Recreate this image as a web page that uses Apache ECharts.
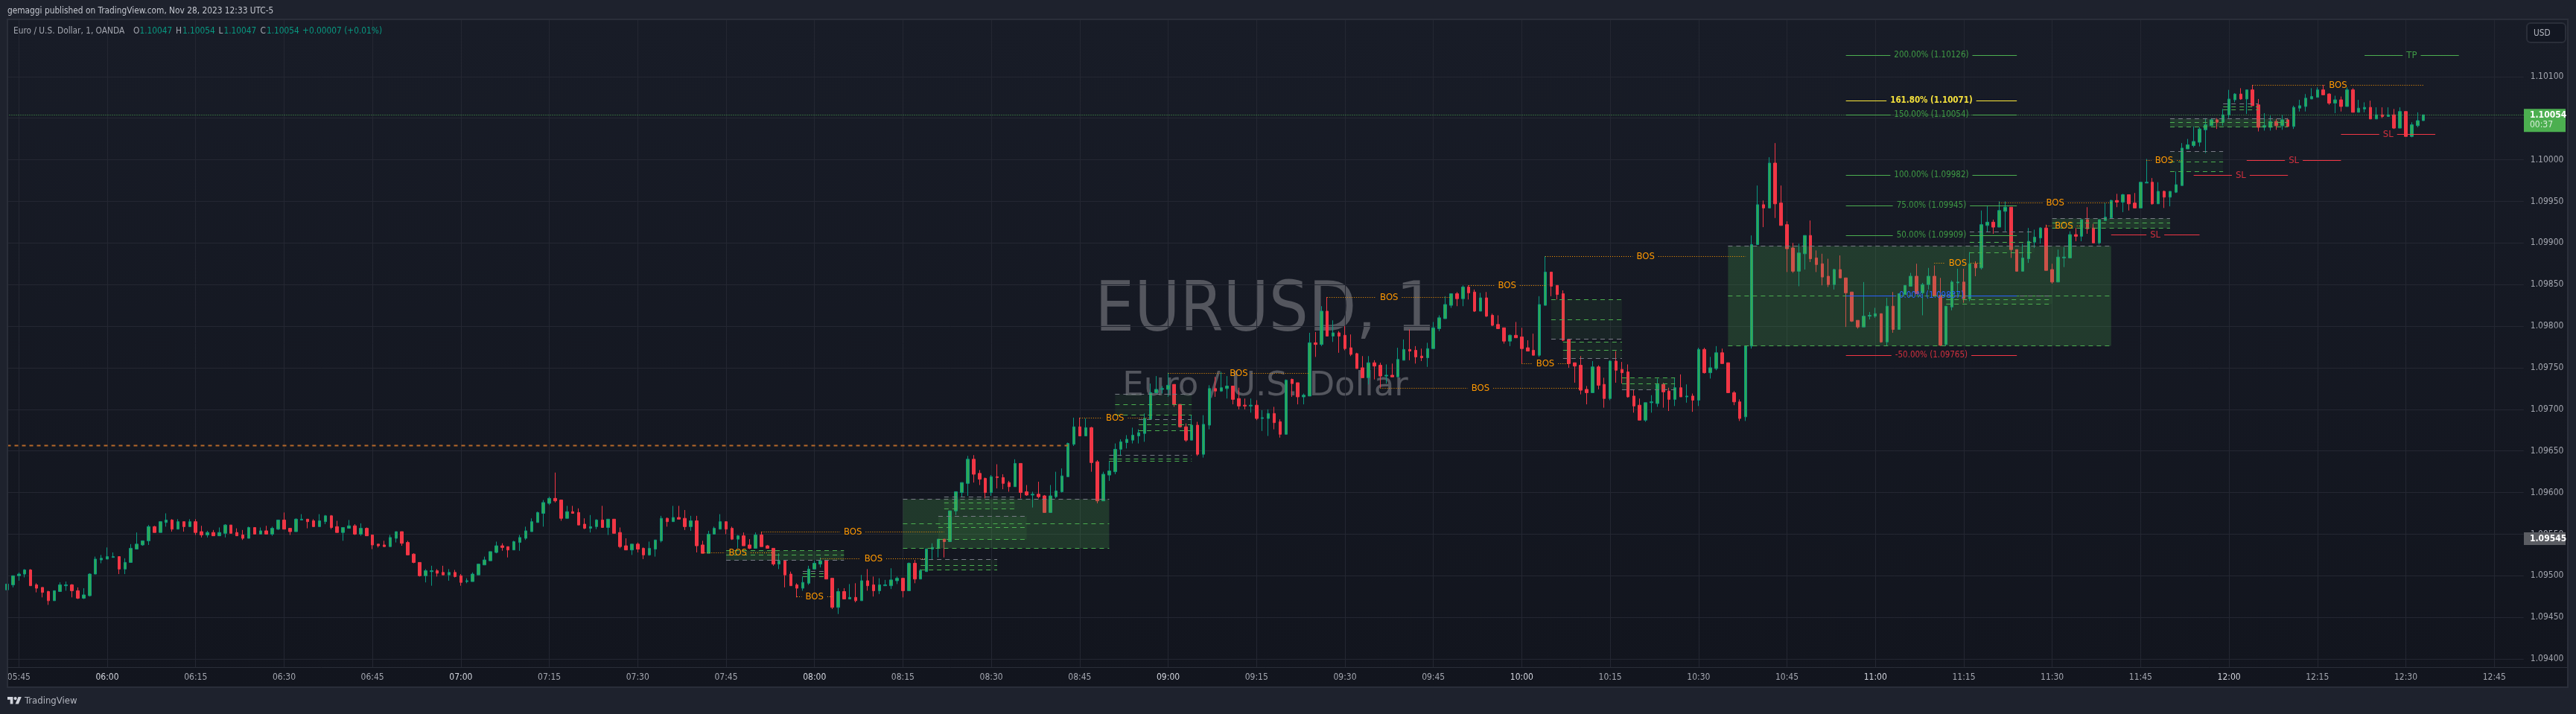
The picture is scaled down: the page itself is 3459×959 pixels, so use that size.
<!DOCTYPE html>
<html><head><meta charset="utf-8">
<style>html,body{margin:0;padding:0;background:#1e222d}#c{width:3459px;height:959px}</style>
<script src="https://cdn.jsdelivr.net/npm/echarts@6/dist/echarts.min.js"></script>
</head><body><div id="c"></div>
<script>
const opens=[
1.09483,1.09489,1.09500,1.09502,1.09507,1.09489,1.09486,1.09481,1.09470,1.09481,
1.09488,1.09489,1.09482,1.09473,1.09476,1.09502,1.09519,1.09520,1.09522,1.09523,
1.09508,1.09516,1.09532,1.09537,1.09542,1.09559,1.09552,1.09564,1.09567,1.09556,
1.09565,1.09559,1.09565,1.09553,1.09549,1.09552,1.09548,1.09551,1.09561,1.09552,
1.09549,1.09545,1.09558,1.09550,1.09554,1.09550,1.09556,1.09567,1.09557,1.09553,
1.09567,1.09568,1.09566,1.09559,1.09565,1.09572,1.09559,1.09552,1.09557,1.09560,
1.09550,1.09557,1.09549,1.09538,1.09537,1.09535,1.09545,1.09553,1.09540,1.09526,
1.09516,1.09500,1.09505,1.09506,1.09504,1.09501,1.09504,1.09500,1.09493,1.09493,
1.09501,1.09513,1.09518,1.09528,1.09536,1.09535,1.09531,1.09540,1.09545,1.09553,
1.09564,1.09575,1.09587,1.09593,1.09591,1.09569,1.09577,1.09576,1.09562,1.09557,
1.09559,1.09567,1.09558,1.09568,1.09552,1.09536,1.09531,1.09538,1.09533,1.09525,
1.09532,1.09542,1.09569,1.09565,1.09570,1.09569,1.09559,1.09566,1.09537,1.09527,
1.09550,1.09556,1.09565,1.09557,1.09544,1.09548,1.09537,1.09533,1.09549,1.09536,
1.09533,1.09514,1.09518,1.09502,1.09489,1.09485,1.09491,1.09508,1.09514,1.09518,
1.09497,1.09462,1.09481,1.09472,1.09474,1.09470,1.09494,1.09489,1.09482,1.09488,
1.09488,1.09494,1.09497,1.09482,1.09515,1.09496,1.09505,1.09532,1.09533,1.09544,
1.09541,1.09578,1.09600,1.09611,1.09640,1.09623,1.09617,1.09600,1.09619,1.09618,
1.09612,1.09607,1.09635,1.09601,1.09597,1.09598,1.09596,1.09576,1.09595,1.09601,
1.09619,1.09658,1.09679,1.09668,1.09678,1.09637,1.09590,1.09621,1.09625,1.09652,
1.09660,1.09663,1.09668,1.09671,1.09688,1.09720,1.09724,1.09724,1.09730,1.09706,
1.09679,1.09663,1.09681,1.09646,1.09681,1.09725,1.09722,1.09725,1.09728,1.09713,
1.09705,1.09704,1.09705,1.09689,1.09689,1.09695,1.09685,1.09670,1.09736,1.09732,
1.09715,1.09716,1.09780,1.09778,1.09818,1.09788,1.09792,1.09789,1.09774,1.09767,
1.09750,1.09738,1.09756,1.09753,1.09740,1.09741,1.09739,1.09759,1.09772,1.09771,
1.09764,1.09762,1.09773,1.09797,1.09809,1.09825,1.09839,1.09833,1.09847,1.09841,
1.09818,1.09834,1.09813,1.09802,1.09798,1.09782,1.09789,1.09787,1.09774,1.09771,
1.09765,1.09825,1.09865,1.09849,1.09839,1.09784,1.09756,1.09753,1.09724,1.09720,
1.09751,1.09730,1.09713,1.09758,1.09748,1.09745,1.09716,1.09705,1.09687,1.09708,
1.09707,1.09730,1.09722,1.09712,1.09726,1.09715,1.09716,1.09711,1.09772,1.09744,
1.09749,1.09768,1.09756,1.09720,1.09709,1.09691,1.09776,1.09898,1.09946,1.09942,
1.09996,1.09948,1.09922,1.09894,1.09866,1.09887,1.09909,1.09882,1.09875,1.09860,
1.09850,1.09868,1.09858,1.09841,1.09807,1.09799,1.09812,1.09812,1.09815,1.09781,
1.09824,1.09796,1.09838,1.09848,1.09860,1.09840,1.09850,1.09860,1.09837,1.09778,
1.09823,1.09852,1.09853,1.09833,1.09875,1.09870,1.09921,1.09925,1.09919,1.09938,
1.09943,1.09892,1.09866,1.09881,1.09901,1.09906,1.09918,1.09868,1.09853,1.09882,
1.09882,1.09910,1.09908,1.09928,1.09918,1.09900,1.09927,1.09930,1.09951,1.09949,
1.09958,1.09948,1.09942,1.09972,1.09973,1.09947,1.09962,1.09955,1.09961,1.09969,
1.10013,1.10017,1.10021,1.10036,1.10041,1.10048,1.10045,1.10054,1.10072,1.10079,
1.10073,1.10084,1.10066,1.10039,1.10039,1.10046,1.10041,1.10048,1.10040,1.10062,
1.10064,1.10073,1.10075,1.10084,1.10079,1.10068,1.10072,1.10064,1.10084,1.10057,
1.10061,1.10063,1.10049,1.10054,1.10052,1.10054,1.10038,1.10058,1.10028,1.10041,1.10047];
const highs=[
1.09490,1.09500,1.09504,1.09508,1.09508,1.09491,1.09486,1.09482,1.09482,1.09492,
1.09493,1.09490,1.09486,1.09485,1.09503,1.09523,1.09525,1.09534,1.09528,1.09523,
1.09521,1.09538,1.09552,1.09542,1.09561,1.09560,1.09565,1.09575,1.09568,1.09568,
1.09565,1.09568,1.09568,1.09560,1.09554,1.09555,1.09558,1.09562,1.09561,1.09557,
1.09555,1.09559,1.09558,1.09558,1.09560,1.09559,1.09567,1.09576,1.09557,1.09569,
1.09574,1.09568,1.09568,1.09574,1.09573,1.09573,1.09566,1.09558,1.09567,1.09562,
1.09563,1.09558,1.09549,1.09538,1.09542,1.09549,1.09553,1.09553,1.09542,1.09527,
1.09516,1.09508,1.09512,1.09508,1.09512,1.09508,1.09507,1.09502,1.09497,1.09504,
1.09514,1.09523,1.09529,1.09541,1.09539,1.09535,1.09542,1.09549,1.09559,1.09569,
1.09577,1.09591,1.09595,1.09624,1.09591,1.09584,1.09584,1.09581,1.09569,1.09573,
1.09568,1.09584,1.09568,1.09568,1.09558,1.09545,1.09538,1.09540,1.09534,1.09541,
1.09543,1.09572,1.09570,1.09584,1.09584,1.09579,1.09572,1.09572,1.09542,1.09554,
1.09559,1.09574,1.09565,1.09559,1.09549,1.09552,1.09544,1.09552,1.09553,1.09537,
1.09533,1.09527,1.09518,1.09505,1.09491,1.09499,1.09512,1.09518,1.09522,1.09519,
1.09497,1.09485,1.09485,1.09490,1.09491,1.09501,1.09508,1.09499,1.09497,1.09495,
1.09509,1.09499,1.09497,1.09516,1.09519,1.09508,1.09533,1.09539,1.09544,1.09544,
1.09578,1.09601,1.09612,1.09644,1.09645,1.09627,1.09618,1.09621,1.09634,1.09622,
1.09614,1.09640,1.09635,1.09609,1.09601,1.09613,1.09597,1.09609,1.09625,1.09629,
1.09660,1.09690,1.09690,1.09689,1.09679,1.09639,1.09625,1.09638,1.09659,1.09664,
1.09669,1.09678,1.09676,1.09695,1.09731,1.09740,1.09728,1.09744,1.09730,1.09706,
1.09683,1.09693,1.09685,1.09693,1.09729,1.09739,1.09745,1.09740,1.09728,1.09726,
1.09713,1.09713,1.09711,1.09699,1.09700,1.09703,1.09688,1.09736,1.09737,1.09732,
1.09719,1.09792,1.09793,1.09824,1.09835,1.09807,1.09794,1.09800,1.09790,1.09768,
1.09764,1.09764,1.09759,1.09756,1.09754,1.09755,1.09774,1.09784,1.09796,1.09776,
1.09773,1.09780,1.09805,1.09813,1.09836,1.09839,1.09841,1.09849,1.09849,1.09844,
1.09840,1.09841,1.09815,1.09813,1.09798,1.09790,1.09805,1.09798,1.09783,1.09791,
1.09836,1.09884,1.09865,1.09849,1.09843,1.09784,1.09756,1.09764,1.09728,1.09758,
1.09753,1.09738,1.09759,1.09770,1.09757,1.09754,1.09724,1.09713,1.09708,1.09717,
1.09737,1.09732,1.09726,1.09738,1.09742,1.09730,1.09719,1.09774,1.09774,1.09763,
1.09776,1.09773,1.09756,1.09722,1.09712,1.09776,1.09909,1.09969,1.09951,1.10003,
1.10020,1.09969,1.09926,1.09900,1.09899,1.09909,1.09927,1.09891,1.09887,1.09881,
1.09869,1.09885,1.09858,1.09841,1.09807,1.09853,1.09817,1.09822,1.09815,1.09834,
1.09841,1.09839,1.09849,1.09864,1.09875,1.09852,1.09870,1.09873,1.09858,1.09824,
1.09855,1.09869,1.09869,1.09889,1.09878,1.09939,1.09944,1.09928,1.09950,1.09950,
1.09943,1.09892,1.09899,1.09918,1.09916,1.09919,1.09922,1.09875,1.09892,1.09895,
1.09914,1.09918,1.09928,1.09943,1.09923,1.09928,1.09948,1.09952,1.09959,1.09959,
1.09958,1.09960,1.09973,1.10001,1.09978,1.09973,1.09963,1.09962,1.09986,1.10020,
1.10025,1.10040,1.10039,1.10050,1.10050,1.10050,1.10061,1.10084,1.10080,1.10086,
1.10084,1.10090,1.10073,1.10056,1.10053,1.10049,1.10054,1.10050,1.10065,1.10072,
1.10079,1.10086,1.10087,1.10090,1.10080,1.10077,1.10076,1.10087,1.10086,1.10072,
1.10069,1.10071,1.10063,1.10063,1.10063,1.10061,1.10063,1.10058,1.10045,1.10057,1.10054];
const lows=[
1.09481,1.09486,1.09494,1.09498,1.09488,1.09480,1.09474,1.09465,1.09470,1.09481,
1.09482,1.09474,1.09472,1.09472,1.09475,1.09502,1.09515,1.09520,1.09522,1.09502,
1.09502,1.09516,1.09532,1.09536,1.09537,1.09552,1.09552,1.09559,1.09553,1.09556,
1.09553,1.09559,1.09549,1.09546,1.09546,1.09548,1.09548,1.09546,1.09551,1.09548,
1.09543,1.09545,1.09550,1.09550,1.09550,1.09548,1.09555,1.09556,1.09549,1.09553,
1.09567,1.09557,1.09559,1.09559,1.09562,1.09556,1.09552,1.09542,1.09557,1.09549,
1.09548,1.09548,1.09532,1.09534,1.09535,1.09535,1.09540,1.09536,1.09525,1.09515,
1.09499,1.09492,1.09488,1.09499,1.09501,1.09494,1.09498,1.09488,1.09491,1.09493,
1.09501,1.09513,1.09518,1.09527,1.09530,1.09522,1.09531,1.09530,1.09543,1.09553,
1.09564,1.09559,1.09585,1.09588,1.09566,1.09569,1.09575,1.09561,1.09556,1.09552,
1.09556,1.09558,1.09549,1.09551,1.09533,1.09531,1.09525,1.09528,1.09520,1.09524,
1.09523,1.09540,1.09559,1.09565,1.09568,1.09555,1.09554,1.09528,1.09527,1.09527,
1.09550,1.09556,1.09550,1.09543,1.09533,1.09536,1.09532,1.09533,1.09535,1.09533,
1.09512,1.09508,1.09486,1.09488,1.09474,1.09482,1.09489,1.09508,1.09510,1.09496,
1.09460,1.09454,1.09472,1.09472,1.09468,1.09470,1.09482,1.09475,1.09478,1.09488,
1.09484,1.09490,1.09474,1.09482,1.09491,1.09496,1.09505,1.09519,1.09522,1.09522,
1.09541,1.09573,1.09595,1.09596,1.09612,1.09609,1.09593,1.09596,1.09605,1.09604,
1.09601,1.09607,1.09593,1.09596,1.09582,1.09593,1.09576,1.09576,1.09593,1.09600,
1.09619,1.09656,1.09668,1.09668,1.09625,1.09587,1.09590,1.09614,1.09622,1.09644,
1.09653,1.09659,1.09659,1.09661,1.09688,1.09720,1.09719,1.09715,1.09703,1.09678,
1.09661,1.09663,1.09644,1.09642,1.09676,1.09715,1.09721,1.09713,1.09706,1.09700,
1.09700,1.09696,1.09687,1.09674,1.09668,1.09676,1.09666,1.09670,1.09715,1.09706,
1.09706,1.09716,1.09763,1.09776,1.09788,1.09781,1.09768,1.09771,1.09764,1.09749,
1.09738,1.09730,1.09736,1.09726,1.09731,1.09739,1.09739,1.09759,1.09759,1.09755,
1.09758,1.09751,1.09773,1.09794,1.09809,1.09822,1.09824,1.09824,1.09832,1.09817,
1.09818,1.09811,1.09800,1.09797,1.09779,1.09776,1.09786,1.09755,1.09770,1.09765,
1.09763,1.09825,1.09836,1.09832,1.09782,1.09750,1.09732,1.09718,1.09706,1.09720,
1.09724,1.09702,1.09711,1.09732,1.09731,1.09714,1.09696,1.09687,1.09685,1.09696,
1.09703,1.09702,1.09698,1.09704,1.09715,1.09708,1.09697,1.09704,1.09743,1.09737,
1.09747,1.09755,1.09720,1.09705,1.09686,1.09686,1.09773,1.09898,1.09919,1.09942,
1.09930,1.09921,1.09865,1.09864,1.09848,1.09868,1.09877,1.09865,1.09849,1.09847,
1.09844,1.09858,1.09799,1.09805,1.09797,1.09799,1.09808,1.09810,1.09780,1.09776,
1.09792,1.09796,1.09838,1.09848,1.09839,1.09813,1.09844,1.09836,1.09776,1.09776,
1.09819,1.09837,1.09828,1.09830,1.09860,1.09868,1.09913,1.09911,1.09919,1.09914,
1.09882,1.09866,1.09866,1.09876,1.09894,1.09899,1.09867,1.09851,1.09853,1.09871,
1.09882,1.09902,1.09902,1.09911,1.09900,1.09898,1.09927,1.09930,1.09943,1.09937,
1.09939,1.09942,1.09942,1.09972,1.09946,1.09947,1.09942,1.09944,1.09960,1.09969,
1.10013,1.10015,1.10016,1.10008,1.10041,1.10037,1.10041,1.10050,1.10069,1.10072,
1.10055,1.10065,1.10034,1.10035,1.10035,1.10036,1.10036,1.10040,1.10037,1.10058,
1.10058,1.10073,1.10075,1.10078,1.10066,1.10056,1.10058,1.10064,1.10057,1.10057,
1.10057,1.10049,1.10049,1.10050,1.10052,1.10037,1.10038,1.10028,1.10027,1.10039,1.10047];
const closes=[
1.09490,1.09500,1.09502,1.09507,1.09488,1.09485,1.09480,1.09470,1.09482,1.09489,
1.09489,1.09482,1.09473,1.09477,1.09502,1.09520,1.09521,1.09523,1.09523,1.09508,
1.09516,1.09533,1.09538,1.09542,1.09559,1.09552,1.09565,1.09567,1.09556,1.09565,
1.09559,1.09565,1.09552,1.09549,1.09552,1.09548,1.09552,1.09561,1.09551,1.09548,
1.09545,1.09558,1.09550,1.09554,1.09550,1.09557,1.09567,1.09556,1.09553,1.09568,
1.09568,1.09565,1.09559,1.09566,1.09572,1.09558,1.09552,1.09558,1.09560,1.09550,
1.09557,1.09548,1.09537,1.09536,1.09535,1.09546,1.09553,1.09539,1.09525,1.09516,
1.09500,1.09506,1.09506,1.09503,1.09501,1.09504,1.09499,1.09492,1.09494,1.09502,
1.09514,1.09519,1.09529,1.09536,1.09534,1.09531,1.09541,1.09546,1.09554,1.09565,
1.09576,1.09588,1.09593,1.09590,1.09569,1.09577,1.09575,1.09561,1.09557,1.09559,
1.09567,1.09558,1.09568,1.09551,1.09535,1.09531,1.09538,1.09532,1.09525,1.09533,
1.09543,1.09569,1.09565,1.09570,1.09568,1.09559,1.09566,1.09536,1.09527,1.09550,
1.09557,1.09565,1.09556,1.09544,1.09548,1.09536,1.09533,1.09549,1.09535,1.09533,
1.09514,1.09518,1.09501,1.09488,1.09485,1.09492,1.09508,1.09515,1.09518,1.09496,
1.09462,1.09481,1.09472,1.09474,1.09470,1.09494,1.09488,1.09482,1.09489,1.09489,
1.09495,1.09497,1.09482,1.09515,1.09496,1.09506,1.09532,1.09534,1.09544,1.09541,
1.09578,1.09601,1.09612,1.09640,1.09622,1.09616,1.09600,1.09619,1.09618,1.09611,
1.09607,1.09635,1.09600,1.09597,1.09598,1.09595,1.09576,1.09596,1.09602,1.09620,
1.09659,1.09679,1.09668,1.09678,1.09636,1.09590,1.09622,1.09626,1.09652,1.09661,
1.09664,1.09669,1.09672,1.09689,1.09720,1.09724,1.09725,1.09729,1.09706,1.09679,
1.09663,1.09681,1.09646,1.09682,1.09725,1.09722,1.09726,1.09728,1.09712,1.09704,
1.09704,1.09705,1.09689,1.09690,1.09695,1.09684,1.09670,1.09735,1.09731,1.09715,
1.09717,1.09780,1.09778,1.09818,1.09788,1.09792,1.09788,1.09773,1.09766,1.09749,
1.09738,1.09756,1.09752,1.09740,1.09741,1.09739,1.09760,1.09772,1.09770,1.09763,
1.09762,1.09773,1.09798,1.09810,1.09826,1.09839,1.09833,1.09847,1.09840,1.09818,
1.09834,1.09812,1.09801,1.09797,1.09782,1.09789,1.09786,1.09773,1.09770,1.09765,
1.09826,1.09865,1.09848,1.09838,1.09783,1.09755,1.09752,1.09723,1.09720,1.09751,
1.09729,1.09713,1.09758,1.09747,1.09744,1.09715,1.09704,1.09687,1.09708,1.09709,
1.09730,1.09721,1.09712,1.09726,1.09715,1.09716,1.09711,1.09772,1.09744,1.09750,
1.09768,1.09755,1.09720,1.09709,1.09689,1.09776,1.09898,1.09946,1.09942,1.09996,
1.09947,1.09921,1.09893,1.09866,1.09888,1.09909,1.09881,1.09874,1.09859,1.09850,
1.09868,1.09858,1.09840,1.09806,1.09799,1.09812,1.09813,1.09815,1.09781,1.09824,
1.09796,1.09839,1.09849,1.09860,1.09839,1.09850,1.09860,1.09836,1.09777,1.09824,
1.09853,1.09853,1.09833,1.09875,1.09870,1.09922,1.09925,1.09919,1.09939,1.09943,
1.09892,1.09866,1.09882,1.09902,1.09907,1.09918,1.09867,1.09853,1.09883,1.09883,
1.09910,1.09908,1.09928,1.09917,1.09900,1.09928,1.09931,1.09951,1.09949,1.09958,
1.09947,1.09942,1.09973,1.09973,1.09947,1.09962,1.09955,1.09962,1.09970,1.10014,
1.10018,1.10022,1.10037,1.10042,1.10048,1.10045,1.10054,1.10073,1.10079,1.10073,
1.10084,1.10065,1.10039,1.10041,1.10046,1.10041,1.10048,1.10040,1.10063,1.10065,
1.10074,1.10076,1.10084,1.10078,1.10068,1.10072,1.10064,1.10084,1.10057,1.10062,
1.10063,1.10049,1.10054,1.10052,1.10054,1.10038,1.10058,1.10028,1.10042,1.10047,1.10054];

const tickLabels=['05:45','06:00','06:15','06:30','06:45','07:00','07:15','07:30','07:45','08:00','08:15','08:30','08:45','09:00','09:15','09:30','09:45','10:00','10:15','10:30','10:45','11:00','11:15','11:30','11:45','12:00','12:15','12:30','12:45'];
const priceTicks=[1.094,1.0945,1.095,1.0955,1.096,1.0965,1.097,1.0975,1.098,1.0985,1.099,1.0995,1.1,1.1005,1.101];

// Zones: start, end, upper, middle, lower
const zoneStart=['07:45','07:58','08:15','08:22','08:21','08:18','08:51','08:55','08:50','10:05','10:07','10:17','10:35','11:16','11:12','11:30','11:50','11:50','11:59'];
const zoneEnd  =['08:05','08:02','08:50','08:34','08:36','08:31','09:04','09:04','09:04','10:17','10:17','10:26','11:40','11:27','11:30','11:50','11:59','12:10','12:05'];
const zoneUpper=[1.09531,1.09506,1.09592,1.09595,1.09572,1.09520,1.09719,1.09688,1.09645,1.09832,1.09781,1.09738,1.09897,1.09914,1.09837,1.09930,1.10010,1.10050,1.10068];
const zoneMid  =[1.09525,1.09503,1.09563,1.09588,1.09558,1.09513,1.09706,1.09682,1.09641,1.09808,1.09771,1.09731,1.09837,1.09901,1.09832,1.09924,1.09998,1.10045,1.10064];
const zoneLower=[1.09519,1.09499,1.09533,1.09581,1.09544,1.09507,1.09694,1.09675,1.09638,1.09785,1.09762,1.09724,1.09777,1.09889,1.09827,1.09918,1.09986,1.10040,1.10060];
const zoneGrayEdge=['lower','upper','upper','upper','upper','upper','upper','upper','upper','lower','lower','lower','upper','upper','upper','upper','upper','upper','upper'];
const zoneFill=[0.2,0,0.23,0.08,0.1,0.08,0.08,0.05,0.02,0.08,0.08,0.12,0.23,0.06,0.08,0.2,0.06,0.2,0];

const bosStart=['07:41','07:51','08:01','07:57','08:45','09:00','09:27','09:51','10:04','10:00','09:36','11:21','11:10','11:29','11:46','12:04'];
const bosEnd  =['07:53','08:22','08:19','08:03','08:57','09:24','09:48','10:04','10:38','10:08','10:10','11:40','11:18','11:35','11:52','12:33'];
const bosPrice=[1.09528,1.09553,1.09521,1.09475,1.09690,1.09744,1.09835,1.09849,1.09884,1.09755,1.09726,1.09949,1.09876,1.09921,1.10000,1.10090];

const fibLabels=['200.00% (1.10126)','161.80% (1.10071)','150.00% (1.10054)','100.00% (1.09982)','75.00% (1.09945)','50.00% (1.09909)','0.00% (1.09837)','-50.00% (1.09765)'];
const fibPrices=[1.10126,1.10071,1.10054,1.09982,1.09945,1.09909,1.09837,1.09765];
const fibSpan=['10:55','11:24'];

const slStart=['11:40','11:54','12:03','12:19'];
const slEnd  =['11:55','12:10','12:19','12:35'];
const slPrice=[1.09910,1.09982,1.10000,1.10031];
const tpSpan=['12:23','12:39'];
const tpPrice=1.10126;
const oldLevel={span:['05:43','08:43'],price:1.09657};
const lastPrice=1.10054, countdown='00:37', markPrice=1.09545;

// --- geometry / style ---
const FONT='"DejaVu Sans Condensed","Liberation Sans",sans-serif';
const GREEN='#4caf50',RED='#f23645',ORANGE='#ff9800',GRAY='#787b86',TXT='#a3a6af';
const BAR=7.914, NCAT=428;
const categories=[];
for(let i=0;i<NCAT;i++){const m=343+i;categories.push(String(Math.floor(m/60)).padStart(2,'0')+':'+String(m%60).padStart(2,'0'));}
const idx=t=>categories.indexOf(t);
const ctx=document.createElement('canvas').getContext('2d');
const tw=(s,f)=>{ctx.font=f;return ctx.measureText(s).width;};
const Ytop=1.1016783,Ybot=1.0939020;
const crisp=v=>Math.round(v)+0.5;

function hLine(x1,x2,y,stroke,dash,w){return {type:'line',shape:{x1,y1:y,x2,y2:y},style:{stroke,lineDash:dash||null,lineWidth:w||1}};}

const zones=zoneStart.map((s,i)=>({s:idx(s),e:idx(zoneEnd[i]),u:zoneUpper[i],m:zoneMid[i],l:zoneLower[i],g:zoneGrayEdge[i],f:zoneFill[i]}));
const levels=[];
bosStart.forEach((s,i)=>levels.push({s:idx(s),e:idx(bosEnd[i]),p:bosPrice[i],t:'BOS',c:ORANGE,tc:ORANGE,dash:[1,2],fs:13}));
const fibCol=[GREEN,'#ffeb3b',GREEN,GREEN,GREEN,GREEN,'#2962ff',RED];
const fibTxt=['#3f9a45','#f5e13c','#3f9a45','#3f9a45','#3f9a45','#3f9a45','#2962ff','#d0303e'];
fibLabels.forEach((t,i)=>levels.push({s:idx(fibSpan[0]),e:idx(fibSpan[1]),p:fibPrices[i],t,c:fibCol[i],tc:fibTxt[i],bold:i===1,fs:11.5}));
slStart.forEach((s,i)=>levels.push({s:idx(s),e:idx(slEnd[i]),p:slPrice[i],t:'SL',c:RED,tc:'#d0303e',fs:13}));
levels.push({s:idx(tpSpan[0]),e:idx(tpSpan[1]),p:tpPrice,t:'TP',c:GREEN,tc:'#3f9a45',fs:13});
const plain=[{s:idx(oldLevel.span[0]),e:idx(oldLevel.span[1]),p:oldLevel.price,c:'#b5682a',dash:[5,5],w:2},
             {s:0,e:NCAT-1,p:lastPrice,c:GREEN,dash:[1,2],w:1}];

function renderZone(params,api){
  const z=zones[params.dataIndex];
  const a=api.coord([z.s,z.u]),b=api.coord([z.e,z.l]),m=api.coord([z.s,z.m])[1];
  const y1=crisp(a[1]),y2=crisp(b[1]),ym=crisp(m);
  const ch=[];
  if(z.f>0)ch.push({type:'rect',shape:{x:a[0],y:y1,width:b[0]-a[0],height:y2-y1},style:{fill:'rgba(76,175,80,'+z.f+')'}});
  ch.push(hLine(a[0],b[0],y1,z.g==='upper'?GRAY:GREEN,[6,5]));
  ch.push(hLine(a[0],b[0],ym,GREEN,[6,5]));
  ch.push(hLine(a[0],b[0],y2,z.g==='lower'?GRAY:GREEN,[6,5]));
  return {type:'group',children:ch};
}
function renderLevel(params,api){
  const L=levels[params.dataIndex];
  const a=api.coord([L.s,L.p]),b=api.coord([L.e,L.p]);
  const y=crisp(a[1]),cx=(a[0]+b[0])/2;
  const font=(L.bold?'bold ':'')+L.fs+'px '+FONT;
  const hw=tw(L.t,font)/2+5;
  return {type:'group',children:[
    hLine(a[0],cx-hw,y,L.c,L.dash),
    hLine(cx+hw,b[0],y,L.c,L.dash),
    {type:'text',style:{x:cx,y:y,text:L.t,fill:L.tc,font,textAlign:'center',textVerticalAlign:'middle'}}
  ]};
}
function renderPlain(params,api){
  const L=plain[params.dataIndex];
  const a=api.coord([L.s,L.p]),b=api.coord([L.e,L.p]);
  return hLine(a[0],b[0],crisp(a[1]),L.c,L.dash,L.w);
}
function renderTags(params,api){
  const g=api.coord([0,lastPrice])[1],k=api.coord([0,markPrice])[1];
  const bold='bold 12px '+FONT, reg='12px '+FONT;
  return {type:'group',children:[
    {type:'rect',shape:{x:3389,y:g-8,width:56,height:31},style:{fill:GREEN}},
    {type:'text',style:{x:3397,y:g+1,text:lastPrice.toFixed(5),fill:'#fff',font:bold,textVerticalAlign:'middle'}},
    {type:'text',style:{x:3397,y:g+14,text:countdown,fill:'#d8eed9',font:reg,textVerticalAlign:'middle'}},
    {type:'rect',shape:{x:3389,y:k-8,width:56,height:17},style:{fill:'#5b5d63'}},
    {type:'text',style:{x:3397,y:k+1,text:markPrice.toFixed(5),fill:'#fff',font:bold,textVerticalAlign:'middle'}}
  ]};
}
const showTick=(i,v)=>tickLabels.includes(v);
const LF='11.8px '+FONT;
const txt=(x,y,text,fill,font)=>({type:'text',silent:true,z:50,style:{x,y,text,fill,font:font||LF,textVerticalAlign:'middle'}});
const lx=v=>10+0.53*v, ly=v=>936+0.53*(v-4);

const chart=echarts.init(document.getElementById('c'),null,{renderer:'canvas'});
chart.setOption({
  animation:false,
  backgroundColor:'#1e222d',
  textStyle:{fontFamily:FONT},
  grid:{left:9.5,top:27,width:(NCAT-1)*BAR,height:869,containLabel:false},
  xAxis:{type:'category',data:categories,boundaryGap:false,
    axisLine:{show:true,lineStyle:{color:'#2a2e39',width:1}},axisTick:{show:false},
    axisLabel:{interval:showTick,color:TXT,fontSize:12,fontFamily:FONT,margin:8,showMinLabel:true,showMaxLabel:true,
      formatter:v=>v.endsWith(':00')?'{b|'+v+'}':v,
      rich:{b:{color:'#d1d4dc',fontSize:12,fontFamily:FONT}}},
    splitLine:{show:true,interval:showTick,lineStyle:{color:'#242732',width:1}}},
  yAxis:{type:'value',position:'right',min:Ybot,max:Ytop,scale:true,
    axisLine:{show:false},axisTick:{show:false,customValues:priceTicks},
    axisLabel:{customValues:priceTicks,color:TXT,fontSize:12,fontFamily:FONT,margin:9,align:'left',formatter:v=>v.toFixed(5)},
    splitLine:{show:true,lineStyle:{color:'#242732',width:1}}},
  series:[
    {type:'candlestick',name:'EURUSD',z:2,barWidth:4,
     data:opens.map((o,i)=>[o,closes[i],lows[i],highs[i]]),
     itemStyle:{color:'#2fa855',color0:RED,borderColor:'#089981',borderColor0:RED,borderColorDoji:'#089981',borderWidth:1}},
    {type:'custom',name:'zones',z:3,clip:false,silent:true,renderItem:renderZone,encode:{x:0,y:1},data:zones.map(z=>[z.s,z.m])},
    {type:'custom',name:'plain',z:4,clip:false,silent:true,renderItem:renderPlain,encode:{x:0,y:1},data:plain.map(L=>[L.s,L.p])},
    {type:'custom',name:'levels',z:5,clip:false,silent:true,renderItem:renderLevel,encode:{x:0,y:1},data:levels.map(L=>[L.s,L.p])},
    {type:'custom',name:'tags',z:20,clip:false,silent:true,renderItem:renderTags,encode:{x:0,y:1},data:[[0,lastPrice]]}
  ],
  graphic:{elements:[
    {type:'rect',silent:true,z:-10,shape:{x:10,y:26,width:3438,height:897},
     style:{fill:new echarts.graphic.LinearGradient(0,0,0,1,[{offset:0,color:'#181c27'},{offset:1,color:'#12151e'}])}},
    {type:'text',silent:true,z:-5,style:{x:1699,y:420,text:'EURUSD, 1',fill:'#54565e',font:'93px '+FONT,textAlign:'center',textVerticalAlign:'middle'}},
    {type:'text',silent:true,z:-5,style:{x:1699,y:519,text:'Euro / U.S. Dollar',fill:'#54565e',font:'45px "DejaVu Sans",sans-serif',textAlign:'center',textVerticalAlign:'middle'}},
    {type:'rect',silent:true,z:40,shape:{x:10,y:26,width:3438,height:897},style:{fill:'none',stroke:'#2a2e39',lineWidth:2}},
    {type:'line',silent:true,z:40,shape:{x1:3389,y1:896.5,x2:3448,y2:896.5},style:{stroke:'#2a2e39',lineWidth:1}},
    {type:'rect',silent:true,z:50,shape:{x:3393,y:31,width:52,height:26,r:5},style:{fill:'#131722',stroke:'#2a2e39',lineWidth:2}},
    txt(3402,45,'USD','#b2b5be'),
    txt(10,15,'gemaggi published on TradingView.com, Nov 28, 2023 12:33 UTC-5','#c3c6ce'),
    txt(18,42,'Euro / U.S. Dollar, 1, OANDA','#a3a6af'),
    txt(179,42,'O','#a3a6af'),txt(187.5,42,'1.10047','#089981'),
    txt(236,42,'H','#a3a6af'),txt(245,42,'1.10054','#089981'),
    txt(293.5,42,'L','#a3a6af'),txt(300.5,42,'1.10047','#089981'),
    txt(349.5,42,'C','#a3a6af'),txt(358,42,'1.10054','#089981'),
    txt(406,42,'+0.00007 (+0.01%)','#089981'),
    {type:'polygon',silent:true,z:50,shape:{points:[[0,4],[14,4],[14,22],[7,22],[7,11],[0,11]].map(p=>[lx(p[0]),ly(p[1])])},style:{fill:'#d1d4dc'}},
    {type:'polygon',silent:true,z:50,shape:{points:[[20,22],[27.5,4],[35.5,4],[28,22]].map(p=>[lx(p[0]),ly(p[1])])},style:{fill:'#d1d4dc'}},
    {type:'circle',silent:true,z:50,shape:{cx:lx(20),cy:ly(8),r:2.1},style:{fill:'#d1d4dc'}},
    txt(33,942,'TradingView','#b2b5be','13px '+FONT)
  ]}
});
</script></body></html>
